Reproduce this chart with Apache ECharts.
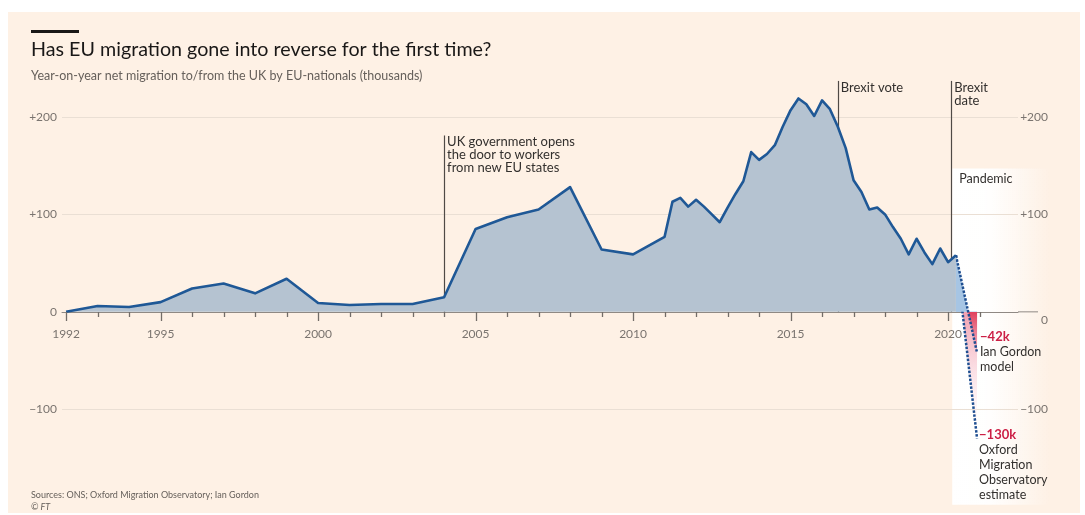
<!DOCTYPE html>
<html>
<head>
<meta charset="utf-8">
<script src="https://cdn.jsdelivr.net/npm/echarts@6/dist/echarts.min.js"></script>
<style>
  html, body { margin: 0; padding: 0; background: #fff; }
  #paper { position: absolute; left: 8px; top: 12px; width: 1072px; height: 501px; background: #fef1e5; }
  #chart { position: absolute; left: 0; top: 0; width: 1085px; height: 515px; }
</style>
</head>
<body>
<div id="paper"></div>
<div id="chart"></div>
<script>
// net migration of EU nationals to the UK (thousands): yearly to 2011, quarterly after
const periods = [
  1992, 1993, 1994, 1995, 1996, 1997, 1998, 1999, 2000, 2001,
  2002, 2003, 2004, 2005, 2006, 2007, 2008, 2009, 2010, 2011,
  2011.25, 2011.5, 2011.75, 2012, 2012.25, 2012.5, 2012.75, 2013,
  2013.25, 2013.5, 2013.75, 2014, 2014.25, 2014.5, 2014.75, 2015,
  2015.25, 2015.5, 2015.75, 2016, 2016.25, 2016.5, 2016.75, 2017,
  2017.25, 2017.5, 2017.75, 2018, 2018.25, 2018.5, 2018.75, 2019,
  2019.25, 2019.5, 2019.75, 2020, 2020.25
];
const netMigration = [
  0, 6, 5, 10, 24, 29, 19, 34, 9, 7,
  8, 8, 15, 85, 97, 105, 128, 64, 59, 77,
  113, 117, 108, 115, 108, 100, 92, 107,
  121, 134, 164, 156, 162, 171, 190, 207,
  219, 213, 201, 217, 208, 190, 168, 135,
  123, 105, 107, 100, 87, 75, 59, 75,
  61, 49, 65, 51, 58
];

// the two estimates for 2020
const projStart = [2020.25, 58];
const gordonModel = [2020.92, -42];
const oxfordEstimate = [2020.92, -130];

const yearTicks = [
  1992, 1993, 1994, 1995, 1996, 1997, 1998, 1999, 2000, 2001, 2002,
  2003, 2004, 2005, 2006, 2007, 2008, 2009, 2010, 2011, 2012, 2013,
  2014, 2015, 2016, 2017, 2018, 2019, 2020, 2021
];
const yearLabels = [1992, 1995, 2000, 2005, 2010, 2015, 2020];
const valueTicks = [-100, 0, 100, 200];

const events = [
  { year: 2004, top: 181, text: 'UK government opens\nthe door to workers\nfrom new EU states' },
  { year: 2016.5, top: 237, text: 'Brexit vote' },
  { year: 2020.1, top: 237, text: 'Brexit\ndate' }
];

const FONT = 'Lato';
const ink = '#33302e';
const grey = '#7a746f';
const axisGrey = '#8f8984';
const tickGrey = '#736d68';
const lineBlue = '#1f5896';
const red = '#cc1f45';
const X_MIN = 1991.87;
const X_MAX = 2022.22;
const Y_MIN = -150;
const Y_MAX = 240;

const signed = (v) => (v > 0 ? '+' + v : v < 0 ? '\u2212' + Math.abs(v) : '0');

// gradient for the projection wedge: light blue above zero, red below
function wedgeFill(end, below) {
  const zero = projStart[1] / (projStart[1] - end[1]);
  return new echarts.graphic.LinearGradient(0, 0, 0, 1, [
    { offset: 0, color: '#a6c5e4' },
    { offset: zero, color: '#a6c5e4' },
    { offset: zero, color: below[0] },
    { offset: 1, color: below[1] }
  ]);
}

const chart = echarts.init(document.getElementById('chart'), null, { renderer: 'canvas' });

const gridBox = { left: 62, right: 67, top: 78, bottom: 57 };
const gridHeight = 515 - gridBox.top - gridBox.bottom;
// lift the year axis from the bottom edge up to the zero line
const zeroLift = -gridHeight * (0 - Y_MIN) / (Y_MAX - Y_MIN);

const option = {
  animation: false,
  backgroundColor: 'transparent',
  textStyle: { fontFamily: FONT },
  grid: gridBox,
  xAxis: {
    type: 'value',
    min: X_MIN,
    max: X_MAX,
    offset: zeroLift,
    axisLine: { onZero: false, lineStyle: { color: axisGrey, width: 1 } },
    axisTick: { show: false },
    axisLabel: { customValues: yearLabels, margin: 16, color: grey, fontSize: 12, fontFamily: FONT, formatter: (v) => String(v) },
    splitLine: { show: false }
  },
  yAxis: [
    {
      type: 'value',
      position: 'left',
      min: Y_MIN,
      max: Y_MAX,
      axisLine: { show: false },
      axisTick: { show: false, customValues: valueTicks },
      axisLabel: { customValues: valueTicks, margin: 5, color: grey, fontSize: 12, fontFamily: FONT, formatter: signed },
      splitLine: { show: true, lineStyle: { color: '#eadfd4', width: 1 } }
    },
    {
      type: 'value',
      position: 'right',
      min: Y_MIN,
      max: Y_MAX,
      axisLine: { show: false },
      axisTick: { show: false, customValues: valueTicks },
      axisLabel: {
        customValues: valueTicks,
        margin: 30,
        align: 'right',
        color: grey,
        fontSize: 12,
        fontFamily: FONT,
        formatter: (v) => (v === 0 ? '{lo|0}' : signed(v)),
        rich: { lo: { color: grey, fontSize: 12, fontFamily: FONT, padding: [16, 0, 0, 0] } }
      },
      splitLine: { show: false }
    }
  ],
  series: [
    {
      name: 'projection-oxford',
      type: 'line',
      data: [projStart, oxfordEstimate],
      symbol: 'none',
      z: 3,
      lineStyle: { color: '#1f4f91', width: 2.5, type: [2.5, 1.5] },
      areaStyle: { color: wedgeFill(oxfordEstimate, ['#f2a0b0', 'rgba(255,255,255,0.2)']), opacity: 1 }
    },
    {
      name: 'projection-gordon',
      type: 'line',
      data: [projStart, gordonModel],
      symbol: 'none',
      z: 4,
      lineStyle: { color: '#1f4f91', width: 2.5, type: [2.5, 1.5] },
      areaStyle: { color: wedgeFill(gordonModel, ['#e0405c', 'rgba(240,150,170,0.5)']), opacity: 1 }
    },
    {
      name: 'net migration',
      type: 'line',
      data: periods.map((p, i) => [p, netMigration[i]]),
      symbol: 'none',
      z: 5,
      lineStyle: { color: lineBlue, width: 2.6, join: 'round' },
      areaStyle: { color: '#b5c3d1', opacity: 1 },
      markLine: {
        silent: true,
        symbol: 'none',
        label: { show: false },
        lineStyle: { color: '#4f4a46', width: 1.2, type: 'solid' },
        data: events.map((e) => [{ coord: [e.year, 0] }, { coord: [e.year, e.top] }])
      }
    }
  ]
};

chart.setOption(option);

// annotations placed through the chart's own scales
const toPx = (x, y) => chart.convertToPixel({ seriesIndex: 2 }, [x, y]);
const graphics = [];

// year ticks hang below the zero line: long at labelled years, short otherwise
yearTicks.forEach((yr) => {
  const p = toPx(yr, 0);
  const len = yearLabels.indexOf(yr) >= 0 ? 9 : 5;
  const x = Math.round(p[0]) + 0.5;
  graphics.push({
    type: 'line',
    z: 10,
    silent: true,
    shape: { x1: x, y1: Math.round(p[1]), x2: x, y2: Math.round(p[1]) + len },
    style: { stroke: tickGrey, lineWidth: 1.3 }
  });
});

const dateTop = toPx(events[2].year, 147);
const panelBottom = toPx(events[2].year, -198);
graphics.push({
  type: 'rect',
  z: -1,
  silent: true,
  shape: { x: dateTop[0] + 1, y: dateTop[1], width: 98, height: panelBottom[1] - dateTop[1] },
  style: {
    fill: new echarts.graphic.LinearGradient(0, 0, 1, 0, [
      { offset: 0, color: '#ffffff' },
      { offset: 0.4, color: 'rgba(255,255,255,0.92)' },
      { offset: 1, color: 'rgba(255,255,255,0)' }
    ])
  }
});
graphics.push({
  type: 'text',
  x: dateTop[0] + 8,
  y: dateTop[1] + 4,
  style: { text: 'Pandemic', fill: ink, font: '12.5px ' + FONT }
});

events.forEach((e) => {
  const p = toPx(e.year, e.top);
  graphics.push({
    type: 'text',
    x: p[0] + 3,
    y: p[1],
    style: { text: e.text, fill: ink, font: '13px ' + FONT, lineHeight: 13 }
  });
});

const g = toPx(gordonModel[0], gordonModel[1]);
graphics.push({
  type: 'text',
  x: g[0] + 3,
  y: g[1] - 23,
  style: {
    text: '{v|\u221242k}\n{t|Ian Gordon}\n{t|model}',
    rich: {
      v: { fill: red, font: 'bold 13px ' + FONT, lineHeight: 15 },
      t: { fill: ink, font: '12.5px ' + FONT, lineHeight: 15 }
    }
  }
});
const o = toPx(oxfordEstimate[0], oxfordEstimate[1]);
graphics.push({
  type: 'text',
  x: o[0] + 2,
  y: o[1] - 11,
  style: {
    text: '{v|\u2212130k}\n{t|Oxford}\n{t|Migration}\n{t|Observatory}\n{t|estimate}',
    rich: {
      v: { fill: red, font: 'bold 13px ' + FONT, lineHeight: 15 },
      t: { fill: ink, font: '12.5px ' + FONT, lineHeight: 15 }
    }
  }
});

// zero line carries on under the right-hand labels
const z0 = toPx(X_MAX, 0);
graphics.push({
  type: 'line',
  silent: true,
  shape: { x1: z0[0], y1: z0[1], x2: z0[0] + 20, y2: z0[1] },
  style: { stroke: axisGrey, lineWidth: 1 }
});

// headline block
graphics.push(
  { type: 'rect', shape: { x: 31, y: 30, width: 48, height: 3 }, style: { fill: '#1a1817' } },
  { type: 'text', x: 31, y: 40, style: { text: 'Has EU migration gone into reverse for the first time?', fill: '#1a1817', font: '19.7px ' + FONT } },
  { type: 'text', x: 31, y: 69, style: { text: 'Year-on-year net migration to/from the UK by EU-nationals (thousands)', fill: '#66605b', font: '12.5px ' + FONT } },
  { type: 'text', x: 31, y: 491, style: { text: 'Sources: ONS; Oxford Migration Observatory; Ian Gordon', fill: '#66605b', font: '9px ' + FONT } },
  { type: 'text', x: 31, y: 503, style: { text: '\u00a9 FT', fill: '#66605b', font: 'italic 9px ' + FONT } }
);

chart.setOption({ graphic: graphics });
</script>
</body>
</html>
